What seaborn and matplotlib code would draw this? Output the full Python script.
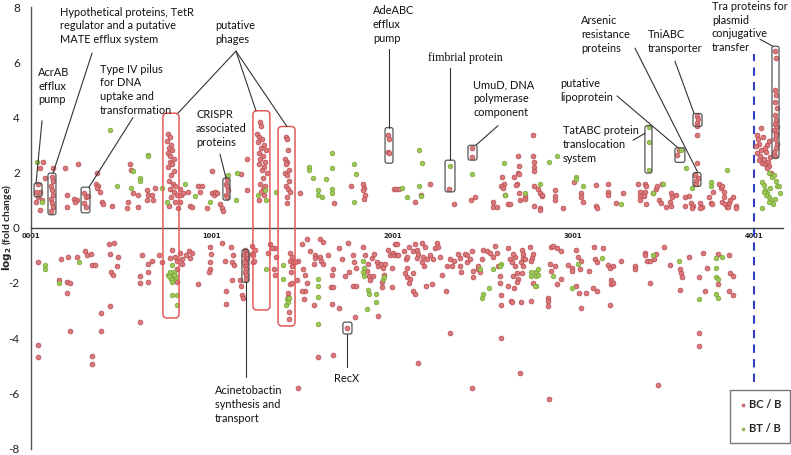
import matplotlib
matplotlib.use("Agg")
import matplotlib.pyplot as plt
import seaborn as sns
import pandas as pd
from matplotlib.patches import FancyBboxPatch

sns.set_theme(style="white")
plt.rcParams["font.family"] = ["Lato", "DejaVu Sans"]

# ---------------- data: (gene index, log2 fold change) ----------------
bc_upper = [
    (66, 2.37), (50, 2.15), (39, 1.6), (50, 1.3), (28, 1.3), (39, 1.1), (61, 1.0), (28, 0.95), (50, 0.65),
    (77, 1.8), (116, 1.85), (122, 1.7), (111, 1.5), (116, 1.35), (122, 1.2), (111, 1.05), (116, 0.9),
    (122, 0.75), (111, 0.6), (122, 2.15), (188, 2.15), (199, 1.2), (199, 0.75), (260, 2.3), (238, 1.05),
    (254, 1.0), (243, 0.95), (293, 1.25), (304, 1.1), (293, 0.9), (304, 0.75), (315, 1.15), (365, 2.0),
    (359, 1.6), (370, 1.5), (365, 1.45), (382, 1.3), (393, 0.95), (398, 0.85), (448, 0.8), (547, 2.3),
    (553, 2.1), (564, 1.25), (536, 0.95), (531, 0.7), (592, 1.2), (641, 1.0), (647, 1.2), (641, 1.35),
    (669, 1.2), (675, 1.0), (686, 1.45), (592, 0.75),
    # phage 1
    (760, 3.4), (770, 3.3), (755, 3.15), (775, 3.0), (765, 2.9), (780, 2.8), (760, 2.7), (772, 2.6),
    (790, 2.5), (768, 2.4), (782, 2.3), (758, 2.2), (795, 2.05), (775, 1.9), (765, 1.7), (785, 1.6),
    (800, 1.5), (770, 1.4), (790, 1.3), (810, 1.2), (778, 1.1), (798, 0.95), (765, 0.8),
    (824, 1.4), (830, 1.2), (824, 0.95), (813, 0.7), (841, 1.25), (868, 1.3), (879, 0.8), (890, 0.75),
    (924, 1.5), (946, 1.5), (935, 1.3), (973, 0.7), (1001, 1.25), (1012, 1.2), (1018, 1.28), (1001, 2.05),
    (1045, 0.85), (1056, 0.7), (1062, 0.6), (1029, 1.25),
    # CRISPR
    (1084, 1.75), (1078, 1.6), (1084, 1.5), (1089, 1.35), (1078, 1.2), (1084, 1.1),
    (1161, 1.95), (1194, 2.5), (1194, 1.35),
    # phage 2
    (1268, 3.85), (1272, 3.7), (1250, 3.4), (1262, 3.3), (1280, 3.2), (1258, 3.1), (1290, 3.0),
    (1275, 2.9), (1300, 2.8), (1265, 2.7), (1285, 2.6), (1270, 2.5), (1295, 2.4), (1260, 2.3),
    (1288, 2.2), (1278, 2.1), (1305, 2.0), (1282, 1.8), (1268, 1.6), (1298, 1.5), (1285, 1.4),
    (1272, 1.3), (1290, 1.2), (1262, 1.0),
    # phage 3
    (1410, 3.3), (1415, 3.2), (1425, 2.8), (1405, 2.5), (1420, 2.4), (1412, 2.3), (1430, 2.1),
    (1408, 2.0), (1418, 1.9), (1428, 1.7), (1410, 1.5), (1422, 1.4), (1432, 1.3), (1415, 1.1), (1420, 0.9),
    (1488, 1.25), (1770, 1.5), (1836, 1.6), (1841, 1.45), (1836, 1.35), (1847, 1.2), (1841, 1.05),
    (1676, 0.9),
    # AdeABC
    (1974, 3.35), (1980, 3.2), (1974, 2.75), (1980, 2.7),
    (2007, 1.4), (2018, 1.4), (2035, 1.4), (2124, 0.95), (2157, 1.2), (2206, 1.6), (2312, 1.4),
    (2339, 0.85), (2439, 2.9), (2439, 2.55), (2433, 1.0), (2455, 1.1), (2555, 0.95), (2560, 0.75),
    (2577, 0.75), (2605, 1.85), (2616, 1.6), (2599, 1.5), (2610, 1.45), (2621, 1.2), (2643, 0.85),
    (2671, 1.85), (2693, 2.6), (2693, 2.0), (2688, 1.6), (2699, 1.25), (2704, 1.0),
    (2654, 0.85), (2682, 1.55), (2699, 2.25), (2699, 1.95), (2732, 1.15), (2737, 1.05),
    (2776, 3.35), (2776, 2.6), (2782, 2.4), (2782, 2.2), (2782, 2.05), (2782, 1.5), (2804, 1.4),
    (2815, 1.25), (2826, 1.15), (2826, 1.2), (2782, 0.8), (2820, 0.7), (2820, 0.65),
    (2903, 1.35), (2903, 1.15), (2903, 1.0), (2942, 0.7), (3003, 1.65), (3042, 1.25), (3042, 1.1),
    (3053, 0.95), (3130, 0.8), (3135, 0.7), (3130, 1.55), (3196, 1.6), (3191, 1.3), (3191, 1.2),
    (3240, 0.9), (3274, 1.25),
    (3362, 1.6), (3368, 1.3), (3373, 1.15), (3401, 1.6), (3406, 1.5), (3401, 1.3), (3395, 1.15),
    (3406, 0.85), (3440, 1.25), (3462, 1.4), (3467, 1.5), (3495, 1.6), (3478, 1.0), (3489, 0.9),
    (3368, 1.0), (3545, 1.25), (3550, 1.1), (3534, 0.95), (3517, 0.75), (3545, 0.8), (3572, 1.2),
    (3617, 1.1), (3617, 0.8), (3578, 2.65), (3589, 2.8), (3644, 1.15), (3655, 0.9), (3666, 0.8),
    (3661, 0.7),
    # TniABC / arsenic
    (3688, 4.05), (3694, 3.95), (3688, 3.8), (3688, 3.7), (3688, 3.35), (3688, 2.35),
    (3677, 1.9), (3694, 1.8), (3683, 1.7), (3683, 1.6), (3700, 0.9), (3716, 0.75), (3705, 0.7),
    (3755, 1.1), (3766, 0.9), (3771, 0.85), (3777, 1.3), (3810, 1.6), (3821, 1.45), (3827, 1.5),
    (3838, 1.3), (3838, 1.1), (3827, 0.95), (3843, 0.85), (3854, 0.75), (3860, 0.75), (3865, 0.9),
    (3871, 1.0), (3887, 1.1), (3904, 0.8), (3904, 0.7),
    # plasmid
    (4018, 3.35), (4023, 3.2), (4029, 3.05), (4012, 2.95), (4040, 2.8), (4018, 2.7), (4035, 2.6),
    (4029, 2.45), (4046, 2.35), (4062, 2.3), (4057, 2.5), (4068, 2.75), (4051, 3.3), (4079, 2.4),
    (4073, 3.0), (4090, 2.55), (4060, 2.9), (4085, 2.25), (4038, 3.6), (4087, 3.15), (4076, 2.15),
    (4093, 2.0),
    # Tra
    (4118, 6.4), (4122, 6.15), (4115, 5.0), (4125, 4.8), (4120, 4.55), (4128, 4.35), (4116, 4.1),
    (4124, 3.9), (4119, 3.75), (4130, 3.65), (4113, 3.55), (4126, 3.45), (4121, 3.35), (4117, 3.2),
    (4127, 3.05), (4123, 2.9), (4114, 2.75), (4120, 2.6),
]

bc_lower = [
    (39, -1.25), (39, -4.25), (39, -4.7), (166, -1.15), (205, -1.05), (254, -1.05), (155, -1.9),
    (199, -1.95), (216, -2.0), (199, -2.35), (216, -3.75), (299, -0.85), (310, -1.0), (332, -0.95),
    (337, -1.35), (354, -1.35), (387, -3.1), (387, -3.75), (431, -0.6), (437, -0.95), (459, -0.55),
    (481, -1.05), (442, -1.6), (453, -1.7), (476, -1.4), (437, -2.85), (337, -4.65), (337, -4.95),
    (603, -1.75), (603, -2.0), (614, -1.0), (647, -1.3), (647, -1.6), (647, -1.95), (669, -1.2),
    (603, -3.4), (708, -1.0), (724, -1.25),
    (780, -0.8), (769, -1.1), (807, -1.2), (807, -1.5), (807, -1.95), (796, -1.05),
    (824, -0.9), (835, -1.15), (835, -1.3), (857, -1.0), (879, -1.1), (874, -0.85), (890, -0.9),
    (924, -2.05), (990, -0.7), (995, -0.95), (990, -1.25), (990, -1.5), (984, -1.6),
    (1056, -0.55), (1106, -0.7), (1073, -1.2), (1117, -1.0), (1111, -1.25), (1122, -1.35),
    (1078, -2.3), (1078, -2.75), (1111, -1.9),
    # acinetobactin
    (1185, -0.8), (1190, -0.9), (1180, -1.0), (1195, -1.1), (1188, -1.15), (1183, -1.2), (1192, -1.3),
    (1186, -1.4), (1190, -1.5), (1184, -1.6), (1193, -1.7), (1188, -1.85), (1198, -1.05), (1178, -1.25),
    (1196, -0.95), (1156, -1.9), (1161, -2.1), (1167, -2.45), (1172, -2.55),
    (1222, -0.65), (1222, -0.95), (1227, -1.25), (1239, -0.8), (1227, -1.0), (1233, -1.2),
    (1311, -0.9), (1322, -0.6), (1349, -0.75), (1355, -1.05), (1344, -1.5), (1349, -1.7), (1333, -0.75),
    (1432, -0.9), (1443, -1.05), (1432, -1.2), (1443, -1.4), (1449, -1.25), (1438, -1.6), (1432, -2.05),
    (1443, -2.0), (1421, -2.35), (1421, -2.5), (1427, -3.05), (1427, -3.3),
    (1476, -1.2), (1471, -1.9), (1460, -1.25), (1499, -0.6), (1526, -0.4), (1543, -0.85), (1571, -1.0),
    (1598, -0.4), (1615, -0.5), (1504, -1.5), (1515, -1.7), (1526, -2.0), (1515, -2.3), (1499, -2.3),
    (1510, -2.6), (1565, -1.3), (1571, -1.1), (1598, -1.05), (1604, -1.2), (1615, -1.3), (1565, -2.8),
    (1587, -4.7), (1670, -4.6), (1643, -1.0), (1665, -1.7), (1670, -1.5), (1659, -2.15), (1670, -2.15),
    (1665, -2.75), (1703, -2.9), (1703, -0.75), (1753, -0.55), (1720, -1.15), (1736, -1.75),
    (1759, -1.6), (1781, -1.0), (1786, -1.25), (1797, -1.45), (1781, -2.1), (1797, -2.1), (1792, -3.25),
    (1748, -3.65),
    (1836, -0.7), (1848, -1.0), (1864, -1.3), (1858, -1.55), (1869, -1.75), (1875, -1.9), (1892, -1.75),
    (1886, -1.1), (1897, -0.95), (1914, -1.25), (1920, -1.4), (1936, -1.3), (1920, -3.2), (1947, -1.45),
    (1953, -1.7), (1942, -1.95), (1942, -2.15), (1959, -1.3), (1975, -0.8), (1986, -1.0), (2003, -0.9),
    (2014, -0.6), (2025, -0.6), (2008, -1.0), (2025, -1.0), (2030, -1.0), (1997, -1.45), (1997, -2.15),
    (2063, -0.85), (2074, -1.15), (2080, -1.45), (2091, -2.0), (2080, -1.05), (2091, -0.7), (2113, -0.85),
    (2124, -0.6), (2135, -0.8), (2141, -0.95), (2135, -1.1), (2068, -1.65), (2080, -1.8), (2096, -1.85),
    (2113, -1.65), (2113, -2.3), (2124, -2.4), (2141, -4.9),
    (2163, -0.55), (2179, -0.7), (2168, -1.05), (2174, -1.4), (2163, -1.25), (2190, -1.15), (2207, -1.0),
    (2224, -1.15), (2235, -0.75), (2246, -0.55), (2251, -0.7), (2262, -1.05), (2185, -2.1), (2218, -2.05),
    (2273, -1.7), (2301, -1.4), (2296, -2.3), (2317, -1.15), (2339, -1.2), (2333, -1.4), (2361, -0.95),
    (2372, -1.1), (2372, -1.4), (2383, -1.6), (2400, -0.95), (2411, -1.0), (2416, -1.25), (2317, -3.8),
    (2428, -1.15), (2439, -0.85), (2444, -1.8), (2444, -1.55), (2472, -1.5), (2477, -1.4), (2483, -1.6),
    (2494, -1.15), (2500, -0.8), (2522, -0.85), (2538, -0.9), (2555, -1.05), (2566, -0.65), (2577, -0.9),
    (2583, -1.4), (2594, -1.75), (2594, -2.0), (2600, -2.45), (2600, -2.8), (2600, -4.0), (2439, -5.8),
    (1477, -5.8), (2639, -0.75), (2650, -1.15), (2639, -2.1), (2655, -2.65), (2677, -1.05), (2688, -1.65),
    (2694, -1.85), (2705, -5.25),
    (2666, -0.95), (2661, -1.25), (2677, -1.4), (2666, -1.75), (2688, -1.95), (2671, -2.2), (2661, -2.7),
    (2716, -0.8), (2721, -0.95), (2710, -1.25), (2721, -1.4), (2716, -1.65), (2721, -1.1), (2732, -1.15),
    (2710, -2.7), (2760, -0.7), (2776, -0.95), (2771, -1.1), (2765, -1.2), (2765, -2.65), (2776, -2.0),
    (2798, -1.6), (2859, -2.55), (2859, -2.65), (2859, -2.85), (2865, -6.2), (2870, -1.3), (2876, -1.55),
    (2881, -0.7), (2887, -0.65), (2898, -1.4), (2914, -0.75), (2936, -0.85), (2909, -2.05), (2931, -1.85),
    (2975, -1.35), (2992, -1.45), (2992, -1.55), (3014, -0.8), (3025, -1.05), (3042, -1.2), (3019, -2.1),
    (3031, -2.35), (3070, -2.35), (3036, -1.5), (3047, -2.9), (3086, -1.55), (3114, -0.7), (3120, -1.15),
    (3131, -1.25), (3108, -2.2), (3131, -2.3), (3164, -0.75), (3191, -1.35), (3202, -1.45), (3219, -1.4),
    (3208, -2.05), (3213, -1.9), (3202, -2.8), (3219, -2.0), (3264, -1.2), (3341, -1.4), (3341, -1.5),
    (3396, -0.9), (3396, -1.0), (3407, -1.2), (3424, -1.2), (3446, -1.15), (3462, -0.95), (3424, -2.0),
    (3473, -5.7), (3501, -0.7), (3534, -1.35), (3590, -1.5), (3595, -1.65), (3601, -1.8), (3590, -2.25),
    (3640, -1.05), (3695, -1.8), (3695, -3.8), (3695, -4.3), (3717, -0.9), (3744, -1.45), (3728, -2.3),
    (3800, -0.95), (3800, -2.05), (3861, -1.0), (3866, -1.65), (3888, -1.75), (3861, -2.3), (3883, -2.45),
]

bt_upper = [
    (33, 2.37), (61, 0.95), (437, 3.55), (476, 1.5), (564, 2.05), (553, 1.45), (603, 1.8), (603, 1.7),
    (647, 2.65), (647, 2.6), (725, 1.45), (752, 0.95), (852, 1.6), (907, 1.15), (990, 0.95), (1090, 1.9),
    (1139, 2.0), (1134, 1.0), (1256, 1.2), (1300, 1.0), (1295, 1.35), (1355, 1.3), (1537, 2.2),
    (1537, 2.1), (1559, 1.8), (1587, 1.35), (1587, 1.2), (1609, 1.1), (1631, 1.75), (1665, 2.7),
    (1665, 2.15), (1665, 1.4), (1665, 1.25), (1786, 2.3), (1797, 1.95), (1786, 0.95), (2052, 1.45),
    (2079, 1.1), (2146, 2.8), (2162, 2.35), (2146, 1.5), (2157, 1.15), (2317, 2.25), (2439, 1.95),
    (2616, 2.35), (2621, 1.2), (2732, 1.25), (2820, 1.6), (2865, 2.4), (2909, 2.6), (3019, 1.85),
    (3019, 1.75), (3058, 1.5), (3263, 0.85), (3423, 3.65), (3423, 3.1), (3423, 2.1), (3440, 1.25),
    (3500, 1.6), (3600, 2.8), (3628, 2.15), (3661, 1.45), (3766, 1.65), (3766, 1.5), (3854, 2.1),
    (4048, 1.65), (4059, 1.55), (4103, 1.85), (4125, 1.7), (4131, 1.5), (4065, 1.35), (4076, 1.25),
    (4087, 1.1), (4098, 1.0), (4087, 0.95), (4070, 1.2), (4059, 1.3), (4048, 0.7), (4092, 1.45),
    (4114, 1.9), (4142, 1.5), (4147, 1.25), (4087, 2.0), (4109, 0.85), (4120, 1.05),
]

bt_lower = [
    (77, -1.35), (77, -1.5), (265, -1.25), (155, -2.0),
    (758, -1.7), (769, -1.8), (780, -1.65), (785, -1.9), (796, -1.75), (774, -1.85), (791, -1.6),
    (763, -1.75), (802, -1.8), (780, -1.95), (791, -1.7), (769, -1.6), (780, -1.35), (780, -2.45),
    (807, -2.45), (807, -2.8), (1300, -1.5), (1394, -1.35), (1394, -1.85), (1416, -2.6), (1410, -2.8),
    (1421, -2.7), (1427, -2.55), (1587, -1.85), (1587, -2.1), (1587, -2.5), (1587, -3.5), (1836, -1.2),
    (1842, -1.45), (1836, -1.6), (1842, -1.75), (1864, -2.25), (1870, -2.4), (1908, -2.4), (1859, -2.95),
    (1908, -2.7), (1947, -1.85), (1953, -1.8), (2483, -1.5), (2500, -2.4), (2494, -2.55), (2533, -2.2),
    (2555, -1.5), (2600, -1.3), (2594, -1.4), (2765, -1.6), (2765, -1.75), (2793, -1.6), (2798, -1.75),
    (2809, -1.7), (2798, -2.1), (2787, -2.1), (2804, -1.5), (2892, -1.75), (3025, -1.3), (2997, -2.2),
    (3158, -1.1), (3440, -1.0), (3584, -1.2), (3695, -2.6), (3789, -1.1), (3827, -1.05), (3789, -1.45),
    (3794, -1.8), (3800, -1.85), (3789, -2.4), (3800, -2.55),
]

series_labels = ["BC / B", "BT / B"]
x_tick_labels = ["0001", "1001", "2001", "3001", "4001"]

# ---------------- annotations (gene, log2 coordinates) ----------------
black_boxes = [  # (x0, x1, y0, y1)
    (18, 62, 1.12, 1.62), (95, 139, 0.47, 1.98), (278, 327, 0.54, 1.47), (1063, 1102, 1.0, 1.8),
    (1168, 1207, -1.98, -0.79), (1960, 2004, 2.34, 3.63), (2292, 2347, 1.3, 2.45),
    (2419, 2469, 2.45, 2.99), (1727, 1777, -3.85, -3.42), (3398, 3437, 1.98, 3.7),
    (3564, 3619, 2.37, 2.9), (3664, 3714, 3.67, 4.14), (3664, 3708, 1.5, 2.0), (4101, 4140, 2.52, 6.58),
]
red_boxes = [(731, 820, -3.27, 4.15), (1229, 1323, -2.98, 4.24), (1368, 1462, -3.56, 3.67)]

labels = [  # (text, x, y, ha, family)
    ("AcrAB\nefflux\npump", 40, 5.13, "left", None),
    ("Hypothetical proteins, TetR\nregulator and a putative\nMATE efflux system", 161, 7.32, "left", None),
    ("Type IV pilus\nfor DNA\nuptake and\ntransformation", 383, 5.0, "left", None),
    ("putative\nphages", 1019, 7.07, "left", None),
    ("CRISPR\nassociated\nproteins", 914, 3.6, "left", None),
    ("AdeABC\nefflux\npump", 1893, 7.37, "left", None),
    ("fimbrial protein", 2200, 6.15, "left", "serif"),
    ("UmuD, DNA\npolymerase\ncomponent", 2447, 4.68, "left", None),
    ("Arsenic\nresistance\nproteins", 3044, 7.01, "left", None),
    ("TniABC\ntransporter", 3415, 6.76, "left", None),
    ("Tra proteins for\nplasmid\nconjugative\ntransfer", 3769, 7.27, "left", None),
    ("putative\nlipoprotein", 2928, 4.98, "left", None),
    ("TatABC protein\ntranslocation\nsystem", 2945, 3.02, "left", None),
    ("Acinetobactin\nsynthesis and\ntransport", 1019, -6.4, "left", None),
    ("RecX", 1749, -5.45, "center", None),
]
leader_lines = [  # ((x0, y0), (x1, y1))
    ((62, 3.88), (29, 1.62)), ((339, 6.33), (123, 1.98)), ((565, 3.99), (322, 1.47)),
    ((1135, 6.4), (814, 4.15)), ((1135, 6.4), (1246, 4.24)), ((1135, 6.4), (1417, 3.67)),
    ((1047, 2.66), (1080, 1.8)), ((1982, 6.47), (1982, 3.63)), ((2319, 5.8), (2319, 2.45)),
    ((2585, 3.7), (2463, 2.99)), ((3343, 6.51), (3691, 2.0)), ((3564, 6.04), (3670, 4.14)),
    ((4035, 6.83), (4105, 6.58)), ((3243, 4.78), (3581, 2.9)), ((3332, 3.17), (3398, 3.42)),
    ((1190, -1.98), (1190, -5.4)), ((1749, -3.85), (1749, -5.04)),
]
plasmid_boundary = 4001

# ---------------- figure ----------------
W, H = 791, 455
fig = plt.figure(figsize=(W / 100, H / 100), dpi=100)
ax = fig.add_axes([31 / W, 6.5 / H, 752 / W, 441.5 / H])

df_bc = pd.DataFrame(bc_upper + bc_lower, columns=["gene", "log2fc"])
df_bt = pd.DataFrame(bt_upper + bt_lower, columns=["gene", "log2fc"])

sns.scatterplot(data=df_bc, x="gene", y="log2fc", color="#DA7A7D", edgecolor="#B8494E",
                linewidth=0.5, s=12, label=series_labels[0], ax=ax, zorder=3)
sns.scatterplot(data=df_bt, x="gene", y="log2fc", color="#9CC953", edgecolor="#7AA33A",
                linewidth=0.5, s=11, label=series_labels[1], ax=ax, zorder=4)

ax.set_xlim(1, 4162)
ax.set_ylim(-8, 8)

# axes styling
for s in ["top", "right"]:
    ax.spines[s].set_visible(False)
ax.spines["left"].set_color("#555555")
ax.spines["left"].set_linewidth(1.0)
ax.spines["bottom"].set_position(("data", 0))
ax.spines["bottom"].set_color("#444444")
ax.spines["bottom"].set_linewidth(1.0)

ax.set_yticks(range(-8, 9, 2))
ax.set_yticklabels([str(v) for v in range(-8, 9, 2)], fontsize=8.5, color="#222222")
ax.tick_params(axis="y", length=0, pad=8)

ax.set_xticks(range(1, 4102, 100), minor=True)
ax.set_xticks([1, 1001, 2001, 3001, 4001])
ax.set_xticklabels(x_tick_labels, fontsize=4.8, fontweight="bold", color="#222222",
                   family="DejaVu Sans")
ax.tick_params(axis="x", which="both", direction="inout", length=5, width=0.8,
               color="#444444", pad=1)
ax.set_xlabel("")
ax.set_ylabel(r"$\mathbf{log_2}$ (fold change)", fontsize=7.5, fontweight="bold", color="#222222")
ax.yaxis.set_label_coords(-0.023, 0.5)

# dashed boundary
ax.vlines(plasmid_boundary, -5.6, 6.3, colors="#3040C0", linestyles=(0, (4, 3)), lw=1.5, zorder=2)

# boxes
asp = (3 / 27.6) / 16.6
for x0, x1, y0, y1 in black_boxes:
    ax.add_patch(FancyBboxPatch((x0, y0), x1 - x0, y1 - y0,
                                boxstyle="round,pad=0,rounding_size=12", mutation_aspect=asp,
                                fill=False, ec="#555555", lw=0.9, zorder=5))
for x0, x1, y0, y1 in red_boxes:
    ax.add_patch(FancyBboxPatch((x0, y0), x1 - x0, y1 - y0,
                                boxstyle="round,pad=0,rounding_size=22", mutation_aspect=asp,
                                fill=False, ec="#E35A5A", lw=1.1, zorder=5))

for (x0, y0), (x1, y1) in leader_lines:
    ax.plot([x0, x1], [y0, y1], color="#333333", lw=0.8, zorder=5)

for txt, x, y, ha, fam in labels:
    kw = dict(fontsize=7.9, color="#111111", ha=ha, va="center", linespacing=1.3, zorder=6)
    if fam == "serif":
        kw["family"] = "Liberation Serif"
        kw["fontsize"] = 8.6
    ax.text(x, y, txt, **kw)

leg = ax.legend(loc="lower right", bbox_to_anchor=(790 / W, 12 / H), bbox_transform=fig.transFigure,
                frameon=True, fancybox=False, edgecolor="#777777", framealpha=1,
                prop={"weight": "bold", "size": 8}, markerscale=0.6, handletextpad=0.2,
                labelspacing=1.2, borderpad=0.8, handlelength=0.7, borderaxespad=0)
leg.get_frame().set_linewidth(1.0)

fig.savefig("out.png", dpi=100)
